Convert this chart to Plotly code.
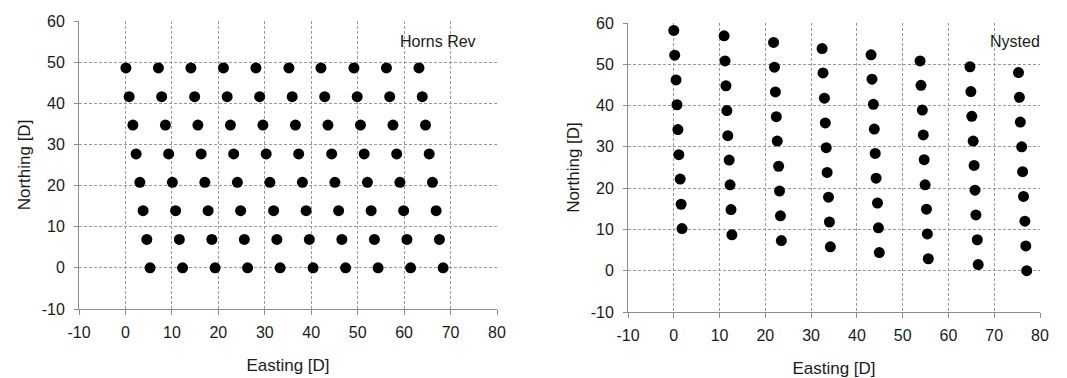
import plotly.graph_objects as go

# Horns Rev: 8 rows of 10 turbines (Easting, Northing in rotor diameters)
hr_row_y = [48.6, 41.6, 34.7, 27.7, 20.8, 13.9, 6.9, 0.0]
hr_row_x = [
    [0.1, 7.1, 14.1, 21.1, 28.1, 35.2, 42.1, 49.2, 56.2, 63.2],
    [0.8, 7.8, 14.9, 21.9, 28.9, 35.9, 42.9, 49.9, 56.9, 63.9],
    [1.6, 8.6, 15.6, 22.6, 29.6, 36.6, 43.6, 50.6, 57.6, 64.6],
    [2.3, 9.3, 16.3, 23.3, 30.3, 37.3, 44.4, 51.4, 58.4, 65.4],
    [3.1, 10.1, 17.1, 24.1, 31.1, 38.1, 45.1, 52.1, 59.1, 66.1],
    [3.8, 10.8, 17.8, 24.8, 31.9, 38.9, 45.9, 52.9, 59.9, 66.9],
    [4.6, 11.6, 18.6, 25.6, 32.6, 39.6, 46.6, 53.6, 60.6, 67.6],
    [5.3, 12.3, 19.3, 26.3, 33.3, 40.4, 47.4, 54.4, 61.4, 68.4],
]

# Nysted: 8 columns of 9 turbines
ny_col_x = [
    [0.0, 0.2, 0.5, 0.7, 0.9, 1.1, 1.4, 1.6, 1.8],
    [11.0, 11.2, 11.4, 11.6, 11.8, 12.1, 12.3, 12.5, 12.7],
    [21.8, 22.0, 22.2, 22.4, 22.6, 22.9, 23.1, 23.3, 23.5],
    [32.4, 32.6, 32.9, 33.1, 33.3, 33.5, 33.8, 34.0, 34.2],
    [43.1, 43.3, 43.6, 43.8, 44.0, 44.2, 44.5, 44.7, 44.9],
    [53.8, 54.0, 54.3, 54.5, 54.7, 54.9, 55.2, 55.4, 55.6],
    [64.7, 64.9, 65.1, 65.4, 65.6, 65.8, 66.0, 66.3, 66.5],
    [75.3, 75.5, 75.7, 76.0, 76.2, 76.4, 76.7, 76.9, 77.1],
]
ny_col_y = [
    [58.2, 52.2, 46.2, 40.2, 34.2, 28.1, 22.2, 16.1, 10.2],
    [56.9, 50.8, 44.8, 38.8, 32.7, 26.8, 20.8, 14.8, 8.7],
    [55.3, 49.3, 43.3, 37.3, 31.4, 25.3, 19.3, 13.3, 7.3],
    [53.8, 47.9, 41.8, 35.8, 29.8, 23.8, 17.8, 11.8, 5.8],
    [52.3, 46.4, 40.3, 34.3, 28.4, 22.4, 16.4, 10.4, 4.4],
    [50.8, 44.9, 38.9, 32.9, 26.9, 20.8, 14.9, 8.9, 2.9],
    [49.4, 43.4, 37.4, 31.4, 25.5, 19.5, 13.5, 7.5, 1.5],
    [48.0, 42.0, 36.0, 30.0, 24.0, 18.0, 12.0, 6.0, 0.0],
]

tick_vals_x = [-10, 0, 10, 20, 30, 40, 50, 60, 70, 80]
tick_text_x = ["-10", "0", "10", "20", "30", "40", "50", "60", "70", "80"]
tick_vals_y = [-10, 0, 10, 20, 30, 40, 50, 60]
tick_text_y = ["-10", "0", "10", "20", "30", "40", "50", "60"]

hr_x = [x for row in hr_row_x for x in row]
hr_y = [y for row, y in zip(hr_row_x, hr_row_y) for _ in row]
ny_x = [x for col in ny_col_x for x in col]
ny_y = [y for col in ny_col_y for y in col]

FONT = "Liberation Sans, Arial, sans-serif"
TXT = "#1a1a1a"
marker = dict(color="black", size=11, line=dict(width=0))

fig = go.Figure()
fig.add_trace(go.Scatter(x=hr_x, y=hr_y, mode="markers", marker=marker,
                         xaxis="x", yaxis="y", showlegend=False))
fig.add_trace(go.Scatter(x=ny_x, y=ny_y, mode="markers", marker=marker,
                         xaxis="x2", yaxis="y2", showlegend=False))

W, H = 1067, 378

def xax(dom, anchor):
    return dict(domain=dom, anchor=anchor, range=[-10, 80],
                tickvals=tick_vals_x, ticktext=tick_text_x,
                showgrid=True, gridcolor="#9a9a9a", griddash="3px,2px", gridwidth=1,
                showline=True, linecolor="#8c8c8c", linewidth=1,
                ticks="outside", ticklen=5, tickcolor="#8c8c8c",
                zeroline=False, tickfont=dict(size=16, color=TXT, family=FONT),
                ticklabelstandoff=4,
                title=dict(text="Easting [D]", font=dict(size=17, color=TXT, family=FONT),
                           standoff=18),
                automargin=False, fixedrange=True)

def yax(dom, anchor):
    return dict(domain=dom, anchor=anchor, range=[-10, 60],
                tickvals=tick_vals_y, ticktext=tick_text_y,
                showgrid=True, gridcolor="#9a9a9a", griddash="3px,2px", gridwidth=1,
                showline=True, linecolor="#8c8c8c", linewidth=1,
                ticks="outside", ticklen=4, tickcolor="#8c8c8c",
                zeroline=False, tickfont=dict(size=16, color=TXT, family=FONT),
                ticklabelstandoff=6,
                title=dict(text="Northing [D]", font=dict(size=17, color=TXT, family=FONT),
                           standoff=6),
                automargin=False, fixedrange=True)

fig.update_layout(
    width=W, height=H,
    margin=dict(l=0, r=0, t=0, b=0),
    paper_bgcolor="white", plot_bgcolor="white",
    xaxis=xax([79 / W, 497 / W], "y"),
    yaxis=yax([1 - 309 / H, 1 - 21 / H], "x"),
    xaxis2=xax([628 / W, 1040 / W], "y2"),
    yaxis2=yax([1 - 312 / H, 1 - 23 / H], "x2"),
    annotations=[
        dict(text="Horns Rev", x=67.2, y=55.1, xref="x", yref="y", showarrow=False,
             font=dict(size=16, color=TXT, family=FONT)),
        dict(text="Nysted", x=74.6, y=55.5, xref="x2", yref="y2", showarrow=False,
             font=dict(size=16, color=TXT, family=FONT)),
    ],
)

fig.write_html("out.html")
